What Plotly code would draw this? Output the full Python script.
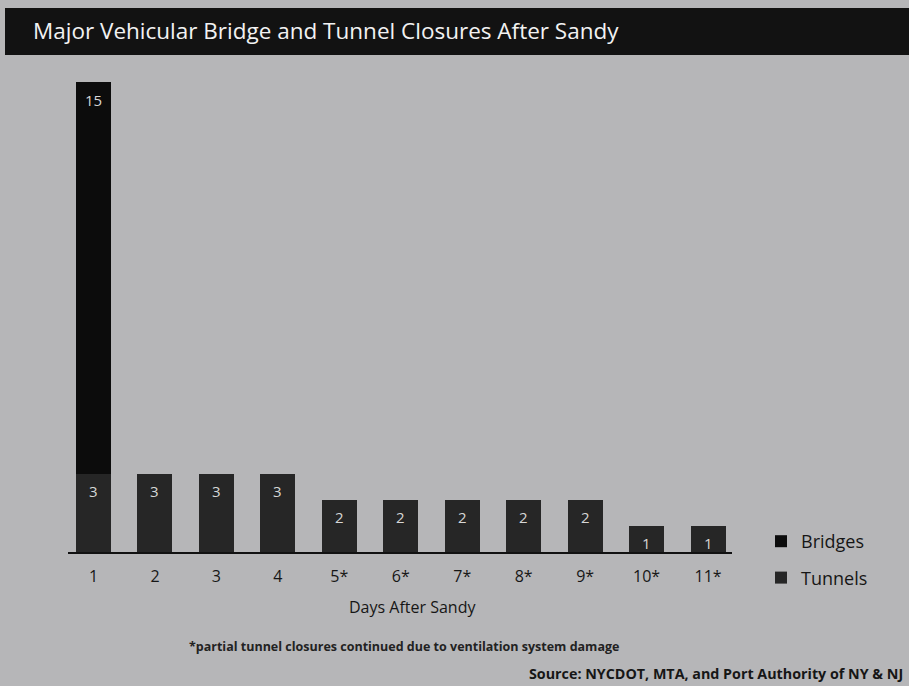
import plotly.graph_objects as go

# Closures per day after the storm
days = ["1", "2", "3", "4", "5*", "6*", "7*", "8*", "9*", "10*", "11*"]
tunnels = [3, 3, 3, 3, 2, 2, 2, 2, 2, 1, 1]
bridges = [15, 0, 0, 0, 0, 0, 0, 0, 0, 0, 0]

BG = "#b6b6b8"
TUNNEL_C = "#262626"
BRIDGE_C = "#0c0c0c"
LABEL_C = "#d6d6d6"
TEXT_C = "#161616"
FONT = "Open Sans, Noto Sans, sans-serif"

fig = go.Figure()
fig.add_trace(go.Bar(
    x=days, y=tunnels, name="Tunnels", marker_color=TUNNEL_C,
    marker_line_width=0, legendgroup="t", legendrank=2, width=0.57,
))
fig.add_trace(go.Bar(
    x=days, y=bridges, name="Bridges", marker_color=BRIDGE_C,
    marker_line_width=0, legendgroup="b", legendrank=1, width=0.57,
))

# value labels placed just under the top of each segment (x by category index)
annotations = []
for i, (t, b) in enumerate(zip(tunnels, bridges)):
    if t:
        annotations.append(dict(x=i, y=t, yref="y", xref="x", text=str(t),
                                showarrow=False, yshift=-17,
                                font=dict(color=LABEL_C, size=15, family=FONT)))
    if b:
        annotations.append(dict(x=i, y=t + b, yref="y", xref="x", text=str(b),
                                showarrow=False, yshift=-18,
                                font=dict(color=LABEL_C, size=15, family=FONT)))

# plot area spans x 68..732 px, y 82..552 px
L, R, T, B = 68, 732, 82, 552
W, H = R - L, B - T

def px_x(p):
    return (p - L) / W

def px_y(p):
    return (B - p) / H

annotations.append(dict(
    xref="paper", yref="paper", x=px_x(412), y=px_y(607),
    text="Days After Sandy", showarrow=False,
    xanchor="center", yanchor="middle",
    font=dict(size=16, color=TEXT_C, family=FONT)))
annotations.append(dict(
    xref="paper", yref="paper", x=px_x(404), y=px_y(646),
    text="<b>*partial tunnel closures continued due to ventilation system damage</b>",
    showarrow=False, xanchor="center", yanchor="middle",
    font=dict(size=12.5, color="#222222", family=FONT)))
annotations.append(dict(
    xref="paper", yref="paper", x=px_x(905), y=px_y(673),
    text="<b>Source: NYCDOT, MTA, and Port Authority of NY &amp; NJ</b>",
    showarrow=False, xanchor="right", yanchor="middle",
    font=dict(size=14.3, color=TEXT_C, family=FONT)))

fig.update_layout(
    width=909, height=686,
    margin=dict(l=L, r=909 - R, t=T, b=686 - B, pad=0),
    paper_bgcolor=BG, plot_bgcolor=BG,
    barmode="stack", bargap=0.43,
    font=dict(family=FONT, color=TEXT_C),
    title=dict(text="Major Vehicular Bridge and Tunnel Closures After Sandy",
               x=33 / 909, xref="container", xanchor="left",
               y=1 - 31 / 686, yref="container", yanchor="middle",
               font=dict(size=22.5, color="#f2f2f2", family=FONT)),
    shapes=[dict(type="rect", xref="paper", yref="paper", layer="below",
                 x0=px_x(5), x1=px_x(915), y0=px_y(55), y1=px_y(8),
                 fillcolor="#121212", line_width=0)],
    annotations=annotations,
    showlegend=True,
    legend=dict(x=px_x(761), y=px_y(523), xanchor="left", yanchor="top",
                traceorder="grouped", tracegroupgap=10,
                bgcolor="rgba(0,0,0,0)",
                font=dict(size=18, color=TEXT_C, family=FONT),
                itemwidth=30),
    xaxis=dict(type="category", range=[-0.415, 10.39],
               showline=True, linecolor="#111111", linewidth=2,
               showgrid=False, zeroline=False,
               ticks="outside", ticklen=9, tickcolor="rgba(0,0,0,0)",
               tickfont=dict(size=16, color=TEXT_C, family=FONT)),
    yaxis=dict(range=[0, 18], visible=False, showgrid=False, zeroline=False),
)

fig.write_html("out.html")
